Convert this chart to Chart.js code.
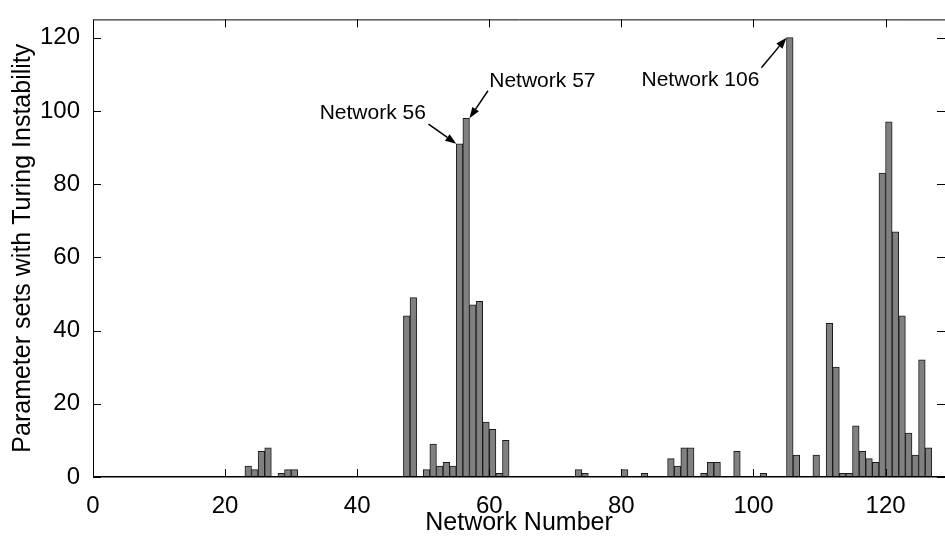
<!DOCTYPE html>
<html>
<head>
<meta charset="utf-8">
<title>Parameter sets with Turing Instability</title>
<script src="https://cdn.jsdelivr.net/npm/chart.js@4/dist/chart.umd.min.js"></script>
<style>
  html, body { margin: 0; padding: 0; background: #fff; }
  #wrap { width: 945px; height: 538px; }
</style>
</head>
<body>
<div id="wrap"><canvas id="turingChart" width="945" height="538"></canvas></div>
<script>
// networks with a non-zero count; every other network has 0
var networks = [24, 25, 26, 27, 29, 30, 31,
  48, 49, 51, 52, 53, 54, 55, 56, 57, 58, 59, 60, 61, 62, 63,
  74, 75, 81, 84, 88, 89, 90, 91, 93, 94, 95, 98,
  102, 106, 107, 110, 112, 113, 114, 115, 116, 117, 118, 119,
  120, 121, 122, 123, 124, 125, 126, 127];
var counts = [3, 2, 7, 8, 1, 2, 2,
  44, 49, 2, 9, 3, 4, 3, 91, 98, 47, 48, 15, 13, 1, 10,
  2, 1, 2, 1, 5, 3, 8, 8, 1, 4, 4, 7,
  1, 120, 6, 6, 42, 30, 1, 1, 14, 7, 5, 4,
  83, 97, 67, 44, 12, 6, 32, 8];
var xTicks = [0, 20, 40, 60, 80, 100, 120];
var yTicks = [0, 20, 40, 60, 80, 100, 120];

// callouts: text anchor and arrow tail in data units, arrow ends on a bar corner
var callouts = [
  { label: 'Network 56', network: 56, corner: 'left', align: 'right', tx: 50.4, ty: 99.3, ax: 50.8, ay: 96.4 },
  { label: 'Network 57', network: 57, corner: 'right', align: 'left', tx: 60.0, ty: 108.2, ax: 59.8, ay: 105.5 },
  { label: 'Network 106', network: 106, corner: 'left', align: 'right', tx: 100.9, ty: 108.5, ax: 101.2, ay: 111.8 }
];

(function () {
  'use strict';

  var canvas = document.getElementById('turingChart');
  var font = '"Liberation Sans", Arial, Helvetica, sans-serif';

  // each network n is drawn as a bar covering [n-1, n]
  var points = networks.map(function (n, i) {
    return { x: n - 0.5, y: counts[i] };
  });

  function arrow(ctx, x0, y0, x1, y1) {
    var ang = Math.atan2(y1 - y0, x1 - x0);
    var len = 11;
    var half = 4;
    var bx = x1 - Math.cos(ang) * len;
    var by = y1 - Math.sin(ang) * len;
    ctx.beginPath();
    ctx.moveTo(x0, y0);
    ctx.lineTo(bx, by);
    ctx.stroke();
    ctx.beginPath();
    ctx.moveTo(x1, y1);
    ctx.lineTo(bx - Math.sin(ang) * half, by + Math.cos(ang) * half);
    ctx.lineTo(bx + Math.sin(ang) * half, by - Math.cos(ang) * half);
    ctx.closePath();
    ctx.fill();
  }

  var frame = {
    id: 'frame',
    afterDatasetsDraw: function (chart) {
      var ctx = chart.ctx;
      var area = chart.chartArea;
      var xs = chart.scales.x;
      var ys = chart.scales.y;
      var tick = 8;

      ctx.save();
      ctx.strokeStyle = '#000';
      ctx.fillStyle = '#000';
      ctx.lineWidth = 1;

      // box (the right edge lies just past the canvas)
      ctx.beginPath();
      ctx.moveTo(area.right, area.top + 0.5);
      ctx.lineTo(area.left + 0.5, area.top + 0.5);
      ctx.lineTo(area.left + 0.5, area.bottom);
      ctx.stroke();
      ctx.lineWidth = 1.5;
      ctx.beginPath();
      ctx.moveTo(area.left, area.bottom - 0.25);
      ctx.lineTo(area.right, area.bottom - 0.25);
      ctx.stroke();

      // inward tick marks on all four sides
      ctx.lineWidth = 1;
      ctx.beginPath();
      xTicks.forEach(function (v) {
        var px = Math.round(xs.getPixelForValue(v)) + 0.5;
        ctx.moveTo(px, area.bottom);
        ctx.lineTo(px, area.bottom - tick);
        ctx.moveTo(px, area.top);
        ctx.lineTo(px, area.top + tick);
      });
      yTicks.forEach(function (v) {
        var py = Math.round(ys.getPixelForValue(v)) + 0.5;
        ctx.moveTo(area.left, py);
        ctx.lineTo(area.left + tick, py);
        ctx.moveTo(area.right, py);
        ctx.lineTo(area.right - tick, py);
      });
      ctx.stroke();

      // callouts
      ctx.font = '21px ' + font;
      ctx.textBaseline = 'middle';
      ctx.lineWidth = 1.5;
      callouts.forEach(function (c) {
        var idx = networks.indexOf(c.network);
        var cx = c.corner === 'left' ? c.network - 1 : c.network;
        ctx.textAlign = c.align;
        ctx.fillText(c.label, xs.getPixelForValue(c.tx), ys.getPixelForValue(c.ty));
        arrow(ctx,
          xs.getPixelForValue(c.ax), ys.getPixelForValue(c.ay),
          xs.getPixelForValue(cx), ys.getPixelForValue(counts[idx]));
      });
      ctx.restore();
    }
  };

  new Chart(canvas, {
    type: 'bar',
    data: {
      datasets: [
        {
          data: points,
          backgroundColor: '#808080',
          borderColor: '#1a1a1a',
          borderWidth: 1,
          borderSkipped: 'start',
          barPercentage: 1,
          categoryPercentage: 1,
        },
      ],
    },
    options: {
      responsive: false,
      animation: false,
      devicePixelRatio: 1,
      layout: { padding: { top: 7, right: -6, bottom: 0, left: 0 } },
      plugins: {
        legend: { display: false },
        tooltip: { enabled: false },
      },
      scales: {
        x: {
          type: 'linear',
          min: 0,
          max: 129,
          offset: false,
          grid: { display: false },
          border: { display: false },
          afterBuildTicks: function (scale) {
            scale.ticks = xTicks.map(function (v) { return { value: v }; });
          },
          afterFit: function (scale) {
            scale.height = 61;
          },
          ticks: {
            color: '#000',
            font: { family: font, size: 24 },
            padding: 7,
            maxRotation: 0,
            autoSkip: false,
          },
          title: {
            display: true,
            text: 'Network Number',
            color: '#000',
            font: { family: font, size: 25 },
            padding: { top: 0, bottom: 0 },
          },
        },
        y: {
          type: 'linear',
          min: 0,
          max: 125,
          grid: { display: false },
          border: { display: false },
          afterBuildTicks: function (scale) {
            scale.ticks = yTicks.map(function (v) { return { value: v }; });
          },
          afterFit: function (scale) {
            scale.width = 93;
          },
          ticks: {
            color: '#000',
            font: { family: font, size: 24 },
            padding: 5,
          },
          title: {
            display: true,
            text: 'Parameter sets with Turing Instability',
            color: '#000',
            font: { family: font, size: 25 },
            padding: { top: 8, bottom: 0 },
          },
        },
      },
    },
    plugins: [frame],
  });
})();
</script>
</body>
</html>
